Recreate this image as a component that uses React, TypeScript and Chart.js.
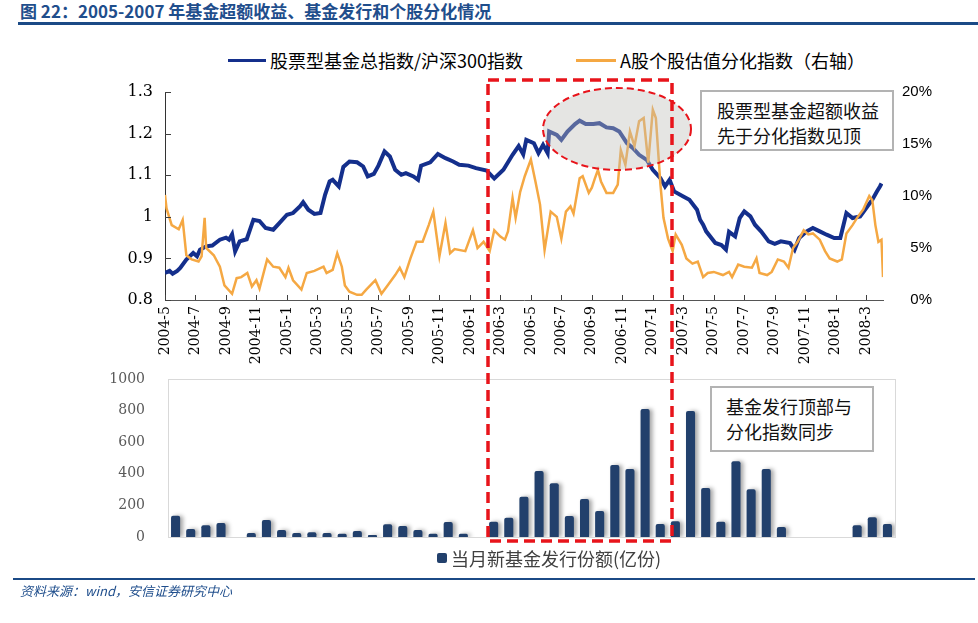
import React, { useEffect, useRef } from "react";
import { Chart, registerables } from "chart.js";

Chart.register(...registerables);

// ---------- DATA ----------
const xTickLabels = [
  "2004-5", "2004-7", "2004-9", "2004-11", "2005-1", "2005-3", "2005-5", "2005-7",
  "2005-9", "2005-11", "2006-1", "2006-3", "2006-5", "2006-7", "2006-9", "2006-11",
  "2007-1", "2007-3", "2007-5", "2007-7", "2007-9", "2007-11", "2008-1", "2008-3",
];

// months since 2004-5
const fundMonth = [
  0.0, 0.3, 0.5, 0.8, 1.0, 1.4, 1.85, 2.1, 2.3, 2.7, 3.1, 3.6, 4.0, 4.2, 4.4, 4.6, 4.9, 5.36, 5.8,
  6.2, 6.6, 7.1, 7.5, 8.0, 8.4, 8.85, 9.06, 9.4, 9.8, 10.2, 10.5, 10.8, 11.0, 11.4, 11.7, 12.1,
  12.6, 13.0, 13.3, 13.7, 14.0, 14.4, 14.75, 15.1, 15.5, 15.8, 16.3, 16.6, 16.8, 17.4, 17.9, 18.4,
  18.9, 19.3, 19.9, 20.4, 21.1, 21.6, 22.2, 22.8, 23.2, 23.5, 23.7, 24.2, 24.5, 24.8, 25.1, 25.2,
  25.7, 26.0, 26.4, 26.9, 27.2, 27.6, 28.1, 28.5, 28.96, 29.4, 29.8, 30.3, 30.7, 31.1, 31.6, 32.0,
  32.5, 32.8, 33.1, 33.4, 34.0, 34.4, 34.9, 35.1, 35.3, 35.5, 36.1, 36.5, 36.8, 37.0, 37.4, 37.7,
  38.0, 38.4, 38.7, 39.1, 39.6, 40.0, 40.4, 41.0, 41.3, 41.6, 42.1, 42.5, 42.95, 43.4, 43.9, 44.3,
  44.7, 45.1, 45.6, 46.0, 46.4, 46.7, 46.9, 47.0,
];
const fundIndex = [
  0.865, 0.87, 0.863, 0.87, 0.877, 0.897, 0.913, 0.905, 0.921, 0.929, 0.931, 0.945, 0.95, 0.945,
  0.958, 0.917, 0.941, 0.946, 0.993, 0.99, 0.973, 0.969, 0.985, 1.005, 1.009, 1.025, 1.035, 1.017,
  1.007, 1.009, 1.053, 1.085, 1.089, 1.073, 1.12, 1.133, 1.131, 1.121, 1.097, 1.103, 1.123, 1.157,
  1.145, 1.113, 1.101, 1.105, 1.097, 1.089, 1.123, 1.131, 1.151, 1.141, 1.133, 1.125, 1.123, 1.117,
  1.111, 1.092, 1.113, 1.149, 1.17, 1.15, 1.185, 1.177, 1.153, 1.173, 1.153, 1.205, 1.197, 1.185,
  1.205, 1.223, 1.231, 1.223, 1.223, 1.225, 1.215, 1.213, 1.205, 1.177, 1.165, 1.149, 1.137, 1.113,
  1.093, 1.073, 1.089, 1.061, 1.049, 1.041, 1.017, 0.993, 0.981, 0.965, 0.937, 0.932, 0.921, 0.964,
  0.953, 0.997, 1.013, 1.001, 0.981, 0.965, 0.941, 0.935, 0.941, 0.937, 0.921, 0.949, 0.965, 0.973,
  0.965, 0.957, 0.949, 0.949, 1.009, 0.997, 1.001, 1.021, 1.041, 1.061, 1.073, 1.08,
];

const divMonth = [
  0.0, 0.1, 0.44, 0.9, 1.16, 1.4, 1.75, 2.2, 2.4, 2.6, 2.7, 3.2, 3.6, 3.9, 4.4, 4.7, 5.0, 5.4, 5.7,
  6.0, 6.2, 6.7, 7.1, 7.5, 7.9, 8.1, 8.4, 8.95, 9.3, 9.8, 10.4, 10.6, 11.0, 11.3, 11.6, 11.8, 12.1,
  12.6, 12.9, 13.2, 13.8, 14.2, 14.6, 15.1, 15.4, 15.7, 16.1, 16.5, 16.9, 17.3, 17.6, 18.0, 18.4,
  18.7, 19.0, 19.7, 20.2, 20.5, 20.9, 21.3, 21.6, 22.0, 22.3, 22.5, 22.8, 23.0, 23.3, 23.6, 24.0,
  24.3, 24.6, 24.9, 25.3, 25.7, 26.0, 26.3, 26.6, 26.8, 27.2, 27.4, 27.8, 28.0, 28.2, 28.4, 28.6,
  28.96, 29.4, 29.7, 29.9, 30.2, 30.5, 30.8, 31.1, 31.4, 31.7, 32.0, 32.2, 32.5, 32.7, 33.0, 33.3,
  33.5, 33.9, 34.2, 34.6, 34.95, 35.3, 35.6, 36.0, 36.6, 37.0, 37.2, 37.6, 38.0, 38.5, 38.8, 39.0,
  39.5, 39.8, 40.2, 40.6, 40.9, 41.2, 41.5, 41.9, 42.2, 42.5, 42.95, 43.3, 43.6, 44.1, 44.4, 44.7,
  45.1, 45.4, 45.8, 46.2, 46.4, 46.6, 46.8, 47.0, 47.1,
];
const divIndex = [
  10.1, 8.8, 7.2, 6.8, 7.7, 4.3, 3.9, 3.7, 4.2, 7.9, 5.0, 4.3, 3.2, 1.4, 0.6, 2.1, 2.2, 2.6, 1.3,
  1.9, 1.1, 3.9, 3.2, 3.1, 2.2, 3.1, 1.9, 1.0, 2.6, 2.8, 3.2, 2.6, 2.9, 4.5, 3.2, 1.4, 0.8, 0.5,
  0.5, 1.0, 1.9, 0.6, 1.4, 2.4, 3.1, 2.2, 4.0, 5.6, 5.6, 7.2, 8.5, 4.2, 7.4, 4.5, 4.9, 4.7, 6.7,
  5.0, 5.6, 4.7, 6.7, 6.1, 5.8, 6.6, 9.8, 7.9, 10.4, 11.9, 13.5, 11.4, 9.2, 4.8, 8.5, 8.0, 5.9,
  8.5, 9.0, 8.3, 11.7, 11.9, 10.3, 10.8, 11.7, 12.5, 11.4, 10.3, 10.3, 11.1, 14.4, 13.0, 16.2,
  14.8, 17.2, 17.5, 13.2, 18.3, 17.5, 11.1, 7.9, 5.9, 4.7, 6.3, 5.3, 4.0, 3.5, 3.7, 2.2, 2.6, 2.7,
  2.4, 2.7, 2.2, 3.4, 3.2, 3.1, 4.0, 2.6, 2.4, 2.7, 3.9, 3.7, 3.1, 5.0, 5.6, 6.7, 6.3, 6.4, 5.8,
  4.7, 4.0, 3.7, 3.9, 6.4, 7.2, 7.9, 8.7, 10.0, 9.6, 7.2, 5.6, 5.8, 2.2,
];

const barMonths = [
  "2004-5", "2004-6", "2004-7", "2004-8", "2004-9", "2004-10", "2004-11", "2004-12",
  "2005-1", "2005-2", "2005-3", "2005-4", "2005-5", "2005-6", "2005-7", "2005-8",
  "2005-9", "2005-10", "2005-11", "2005-12", "2006-1", "2006-2", "2006-3", "2006-4",
  "2006-5", "2006-6", "2006-7", "2006-8", "2006-9", "2006-10", "2006-11", "2006-12",
  "2007-1", "2007-2", "2007-3", "2007-4", "2007-5", "2007-6", "2007-7", "2007-8",
  "2007-9", "2007-10", "2007-11", "2007-12", "2008-1", "2008-2", "2008-3", "2008-4",
];
const newFundShares = [
  135, 50, 75, 88, null, 25, 108, 45, 25, 30, 25, 20, 38, 13, 80, 70, 45, 20, 95, 20, null, 97,
  122, 255, 418, 340, 133, 240, 165, 455, 430, 810, 82, 100, 797, 310, 97, 480, 303, 430, 63,
  null, null, null, null, 75, 125, 83,
];

const leftTicks = { min: 0.8, max: 1.3, step: 0.1 };
const rightTicks = { min: 0, max: 20, step: 5 };
const barTicks = { min: 0, max: 1000, step: 200 };

const seriesNames = ["股票型基金总指数/沪深300指数", "A股个股估值分化指数（右轴）", "当月新基金发行份额(亿份)"];

const BLUE = "#142f8c";
const ORANGE = "#f5a843";
const NAVY = "#22406c";
const CJK = '"Noto Sans CJK SC", sans-serif';

export default function App() {
  const topRef = useRef<HTMLCanvasElement>(null);
  const botRef = useRef<HTMLCanvasElement>(null);

  useEffect(() => {
    const inwardTicks = {
      id: "inwardTicks",
      afterDraw(chart: any) {
        const ctx = chart.ctx;
        const { left, bottom } = chart.chartArea;
        const xs = chart.scales.x;
        const yl = chart.scales.yL;
        ctx.save();
        ctx.strokeStyle = "#404040";
        ctx.lineWidth = 1;
        xs.ticks.forEach((t: any) => {
          const px = Math.round(xs.getPixelForValue(t.value)) + 0.5;
          ctx.beginPath();
          ctx.moveTo(px, bottom);
          ctx.lineTo(px, bottom - 5);
          ctx.stroke();
        });
        yl.ticks.forEach((t: any) => {
          const py = Math.round(yl.getPixelForValue(t.value)) + 0.5;
          ctx.beginPath();
          ctx.moveTo(left, py);
          ctx.lineTo(left + 6, py);
          ctx.stroke();
        });
        ctx.restore();
      },
    };

    const top = new Chart(topRef.current as HTMLCanvasElement, {
      type: "line",
      data: {
        datasets: [
          {
            label: seriesNames[0],
            data: fundMonth.map((m, i) => ({ x: m, y: fundIndex[i] })),
            borderColor: BLUE,
            borderWidth: 4,
            pointRadius: 0,
            yAxisID: "yL",
            order: 2,
          },
          {
            label: seriesNames[1],
            data: divMonth.map((m, i) => ({ x: m, y: divIndex[i] })),
            borderColor: ORANGE,
            borderWidth: 2.5,
            pointRadius: 0,
            yAxisID: "yR",
            order: 1,
          },
        ],
      },
      options: {
        animation: false,
        responsive: false,
        maintainAspectRatio: false,
        layout: { autoPadding: false, padding: { top: 20, left: 0, right: 46, bottom: 0 } },
        plugins: { legend: { display: false }, tooltip: { enabled: false } },
        scales: {
          x: {
            type: "linear",
            min: 0,
            max: 47.1,
            afterBuildTicks: (s: any) => {
              s.ticks = xTickLabels.map((_, i) => ({ value: i * 2 }));
            },
            afterFit: (s: any) => {
              s.height = 80;
            },
            grid: { display: false, drawTicks: false },
            border: { display: true, color: "#555" },
            ticks: {
              autoSkip: false,
              maxRotation: 90,
              minRotation: 90,
              padding: 6,
              color: "#000",
              font: { family: '"DejaVu Serif", serif', size: 14 },
              callback: (_v: any, i: number) => xTickLabels[i],
            },
          },
          yL: {
            position: "left",
            min: leftTicks.min,
            max: leftTicks.max,
            afterFit: (s: any) => {
              s.width = 165;
            },
            grid: { display: false, drawTicks: true, tickLength: 12 },
            border: { display: true, color: "#333" },
            ticks: {
              stepSize: leftTicks.step,
              padding: 0,
              color: "#000",
              font: { family: '"DejaVu Serif", serif', size: 16 },
              callback: (v: any) => String(Math.round(v * 10) / 10),
            },
          },
          yR: {
            position: "right",
            min: rightTicks.min,
            max: rightTicks.max,
            afterFit: (s: any) => {
              s.width = 49;
            },
            grid: { display: false, drawTicks: false },
            border: { display: false },
            ticks: {
              stepSize: rightTicks.step,
              padding: 0,
              crossAlign: "far",
              color: "#000",
              font: { family: '"Liberation Sans", sans-serif', size: 15 },
              callback: (v: any) => v + "%",
            },
          },
        },
      },
      plugins: [inwardTicks],
    } as any);

    const barShadow = {
      id: "barShadow",
      beforeDatasetsDraw(chart: any) {
        const ctx = chart.ctx;
        ctx.save();
        ctx.shadowColor = "rgba(0,0,0,0.35)";
        ctx.shadowBlur = 4;
        ctx.shadowOffsetX = 3;
        ctx.shadowOffsetY = 0;
      },
      afterDatasetsDraw(chart: any) {
        chart.ctx.restore();
      },
    };
    const frame = {
      id: "frame",
      beforeDatasetsDraw(chart: any) {
        const { left, top: t, right, bottom } = chart.chartArea;
        const ctx = chart.ctx;
        ctx.save();
        ctx.strokeStyle = "#d9d9d9";
        ctx.lineWidth = 1;
        ctx.strokeRect(Math.round(left) + 0.5, Math.round(t) + 0.5, Math.round(right - left), Math.round(bottom - t));
        ctx.restore();
      },
    };

    const bot = new Chart(botRef.current as HTMLCanvasElement, {
      type: "bar",
      data: {
        labels: barMonths,
        datasets: [
          {
            label: seriesNames[2],
            data: newFundShares,
            backgroundColor: NAVY,
            borderRadius: 2,
            borderSkipped: "bottom",
            barPercentage: 0.6,
            categoryPercentage: 1,
          },
        ],
      },
      options: {
        animation: false,
        responsive: false,
        maintainAspectRatio: false,
        layout: { autoPadding: false, padding: { top: 14, left: 0, right: 83, bottom: 10 } },
        plugins: { legend: { display: false }, tooltip: { enabled: false } },
        scales: {
          x: { display: false },
          y: {
            min: barTicks.min,
            max: barTicks.max,
            afterFit: (s: any) => {
              s.width = 168;
            },
            grid: { display: false, drawTicks: true, tickLength: 23 },
            border: { display: false },
            ticks: {
              stepSize: barTicks.step,
              padding: 0,
              color: "#595959",
              font: { family: '"DejaVu Serif", serif', size: 14 },
              callback: (v: any) => String(v),
            },
          },
        },
      },
      plugins: [frame, barShadow],
    } as any);

    return () => {
      top.destroy();
      bot.destroy();
    };
  }, []);

  const abs = (l: number, t: number, extra: React.CSSProperties = {}): React.CSSProperties => ({
    position: "absolute",
    left: l,
    top: t,
    ...extra,
  });

  return (
    <div style={{ position: "absolute", left: 0, top: 0, width: 978, height: 623, background: "#fff", overflow: "hidden" }}>
      {/* title */}
      <div
        style={abs(20, 1, {
          fontFamily: CJK,
          fontWeight: 700,
          fontSize: 17,
          color: "#1f4e8c",
          lineHeight: "20px",
          whiteSpace: "nowrap",
        })}
      >
        图 22：2005-2007 年基金超额收益、基金发行和个股分化情况
      </div>
      <div style={abs(18, 22, { width: 960, height: 3, background: "#1b4a86" })} />

      {/* top legend */}
      <div style={abs(228, 59, { width: 38, height: 3, background: BLUE })} />
      <div style={abs(270, 48, { fontFamily: CJK, fontSize: 18, lineHeight: "24px", color: "#000", whiteSpace: "nowrap" })}>
        {seriesNames[0]}
      </div>
      <div style={abs(576, 59, { width: 40, height: 3, background: ORANGE })} />
      <div style={abs(620, 48, { fontFamily: CJK, fontSize: 18, lineHeight: "24px", color: "#000", whiteSpace: "nowrap" })}>
        {seriesNames[1]}
      </div>

      <canvas ref={topRef} width={978} height={308} style={abs(0, 72, { width: 978, height: 308 })} />
      <canvas ref={botRef} width={978} height={182} style={abs(0, 365, { width: 978, height: 182 })} />

      {/* bottom legend */}
      <div style={abs(437, 553, { width: 10, height: 10, background: NAVY, borderRadius: 2 })} />
      <div style={abs(451, 546, { fontFamily: CJK, fontSize: 18, lineHeight: "24px", color: "#404040", whiteSpace: "nowrap" })}>
        {seriesNames[2]}
      </div>

      {/* annotations */}
      <svg width={978} height={623} style={abs(0, 0, { pointerEvents: "none" })}>
        <ellipse cx={617} cy={129} rx={74} ry={41} fill="rgba(190,190,185,0.4)" stroke="#e8141b" strokeWidth={2} strokeDasharray="7 4" />
        <rect x={488} y={80} width={184} height={461} fill="none" stroke="#e8141b" strokeWidth={3.5} strokeDasharray="11 6" />
      </svg>

      <div
        style={abs(700, 90, {
          width: 194,
          height: 61,
          border: "2px solid #b3b3b3",
          background: "#fff",
          fontFamily: CJK,
          fontSize: 18,
          lineHeight: "25px",
          color: "#111",
          padding: "6px 0 0 15px",
          boxSizing: "border-box",
          whiteSpace: "nowrap",
        })}
      >
        股票型基金超额收益
        <br />
        先于分化指数见顶
      </div>
      <div
        style={abs(710, 386, {
          width: 164,
          height: 66,
          border: "2px solid #b3b3b3",
          background: "#fff",
          fontFamily: CJK,
          fontSize: 18,
          lineHeight: "25px",
          color: "#111",
          padding: "6px 0 0 14px",
          boxSizing: "border-box",
          whiteSpace: "nowrap",
        })}
      >
        基金发行顶部与
        <br />
        分化指数同步
      </div>

      {/* footer */}
      <div style={abs(13, 578, { width: 962, height: 2, background: "#1b4a86" })} />
      <div
        style={abs(20, 582, {
          fontFamily: CJK,
          fontStyle: "italic",
          fontSize: 13,
          lineHeight: "18px",
          color: "#1f4e8c",
          whiteSpace: "nowrap",
        })}
      >
        资料来源：wind，安信证券研究中心
      </div>
    </div>
  );
}
